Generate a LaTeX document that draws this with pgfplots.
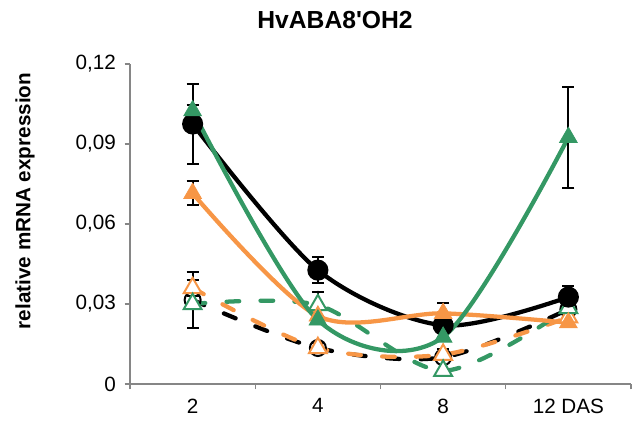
\documentclass[border=0pt]{standalone}
\usepackage{fontspec}
\setmainfont{Liberation Sans}
\usepackage{pgfplots}
\pgfplotsset{compat=1.18}
\usepackage{pgfplotstable}
\definecolor{axisgray}{RGB}{134,134,134}
\definecolor{xlorange}{RGB}{247,150,70}
\definecolor{xlgreen}{RGB}{52,152,100}

\pgfplotsset{myerr/.style={error bars/.cd, y dir=both, y explicit,
    error bar style={draw=black, line width=1.5pt, solid},
    error mark options={rotate=90, mark size=4.5pt, line width=1.5pt, draw=black, solid}}}

\pgfplotstableread{
x y e
0 0.0975 0.015
1 0.0427 0.005
2 0.0220 0.000
3 0.0326 0.004
}\blacksolid
\pgfplotstableread{
x y e
0 0.0715 0.0045
1 0.0255 0.000
2 0.0265 0.004
3 0.0230 0.000
}\orangesolid
\pgfplotstableread{
x y e
0 0.1025 0.002
1 0.0240 0.000
2 0.0176 0.000
3 0.0925 0.019
}\greensolid
\pgfplotstableread{
x y e
0 0.0315 0.0105
1 0.0135 0.002
2 0.0100 0.000
3 0.0280 0.000
}\blackdashed
\pgfplotstableread{
x y e
0 0.0360 0.003
1 0.0135 0.000
2 0.0110 0.002
3 0.0250 0.000
}\orangedashed
\pgfplotstableread{
x y e
0 0.0300 0.000
1 0.0296 0.005
2 0.0050 0.000
3 0.0285 0.000
}\greendashed

\begin{document}
\begin{tikzpicture}
\useasboundingbox (-97.5pt,-31.5pt) rectangle (381pt,288pt);
\begin{axis}[
  at={(0pt,0pt)}, anchor=south west,
  scale only axis, width=375.75pt, height=240pt,
  xmin=-0.5, xmax=3.5, ymin=0, ymax=0.12,
  clip=false,
  axis x line*=bottom, axis y line*=left,
  axis line style={draw=axisgray, line width=1pt, -},
  tick align=outside, major tick length=4pt,
  xtick={-0.5,0.5,1.5,2.5,3.5}, xticklabels={},
  extra x ticks={0,1,2,3}, extra x tick labels={2,4,8,12 DAS},
  extra x tick style={major tick length=0pt, xticklabel style={yshift=-7.5pt}},
  x tick style={draw=axisgray, line width=1pt},
  y tick style={draw=axisgray, line width=1pt},
  ytick={0,0.03,0.06,0.09,0.12},
  yticklabels={0,{0,03},{0,06},{0,09},{0,12}},
  yticklabel style={xshift=-3pt},
  tick label style={font=\fontsize{15.5}{17}\selectfont},
  every axis plot/.append style={smooth, tension=0.5, line width=3.2pt},
]
\addplot[black, dash pattern=on 9.5pt off 16pt, line cap=round, mark=o, mark size=6pt,
  mark options={solid, fill=white, line width=1.5pt}, myerr]
  table[x=x, y=y, y error=e] {\blackdashed};
\addplot[xlorange, dash pattern=on 9.5pt off 16pt, line cap=round, mark=triangle*, mark size=7.7pt,
  mark options={solid, fill=white, line width=1.5pt}, myerr]
  table[x=x, y=y, y error=e] {\orangedashed};
\addplot[xlgreen, dash pattern=on 9.5pt off 16pt, line cap=round, mark=triangle*, mark size=7.7pt,
  mark options={solid, fill=white, line width=1.5pt}, myerr]
  table[x=x, y=y, y error=e] {\greendashed};
\addplot[black, mark=*, mark size=6.3pt, mark options={solid}, myerr]
  table[x=x, y=y, y error=e] {\blacksolid};
\addplot[xlorange, mark=triangle*, mark size=7.7pt, mark options={solid, line width=0.5pt}, myerr]
  table[x=x, y=y, y error=e] {\orangesolid};
\addplot[xlgreen, mark=triangle*, mark size=7.7pt, mark options={solid, line width=0.5pt}, myerr]
  table[x=x, y=y, y error=e] {\greensolid};
\end{axis}
\node[font=\fontsize{18.5}{20}\selectfont\bfseries] at (153.75pt,273pt) {HvABA8\textquotesingle OH2};
\node[rotate=90, font=\fontsize{15.5}{17}\selectfont\bfseries] at (-78.75pt,137.25pt) {relative mRNA expression};
\end{tikzpicture}
\end{document}
